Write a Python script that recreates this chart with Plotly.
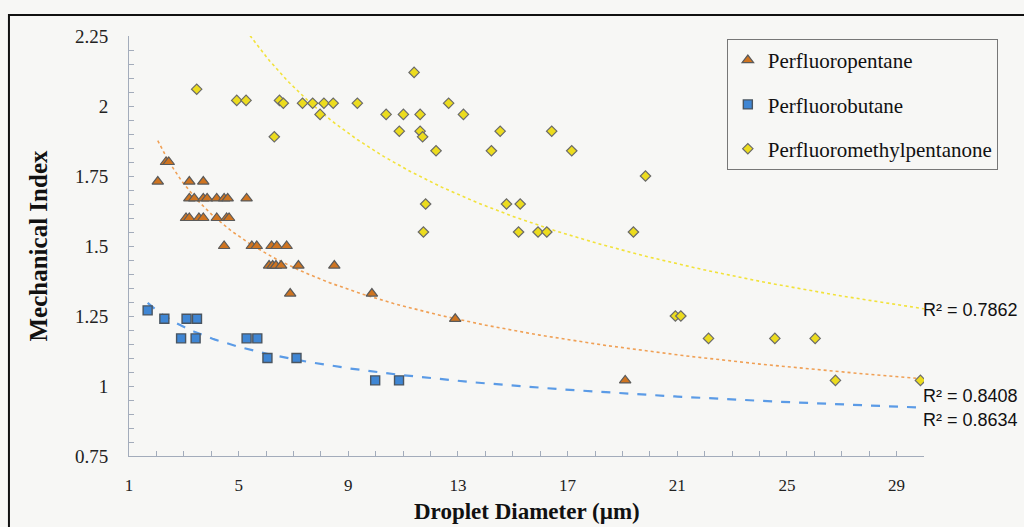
import numpy as np
import plotly.graph_objects as go

# Perfluoropentane droplets: diameter (µm) vs mechanical index
pfp_x = [2.05, 2.35, 2.45, 3.20, 3.71,
         3.20, 3.38, 3.71, 3.85, 4.20, 4.47, 4.60, 5.29,
         3.08, 3.20, 3.55, 3.71, 4.20, 4.56, 4.65,
         4.47, 5.48, 5.66, 6.20, 6.39, 6.75,
         6.11, 6.24, 6.36, 6.55, 7.18, 8.49,
         6.88, 9.86, 12.90, 19.10]
pfp_y = [1.73, 1.80, 1.80, 1.73, 1.73,
         1.67, 1.67, 1.67, 1.67, 1.67, 1.67, 1.67, 1.67,
         1.60, 1.60, 1.60, 1.60, 1.60, 1.60, 1.60,
         1.50, 1.50, 1.50, 1.50, 1.50, 1.50,
         1.43, 1.43, 1.43, 1.43, 1.43, 1.43,
         1.33, 1.33, 1.24, 1.02]

# Perfluorobutane droplets
pfb_x = [1.68, 2.29, 3.10, 3.48, 2.90, 3.43, 5.29, 5.68, 6.05, 7.11, 9.98, 10.85]
pfb_y = [1.27, 1.24, 1.24, 1.24, 1.17, 1.17, 1.17, 1.17, 1.10, 1.10, 1.02, 1.02]

# Perfluoromethylpentanone droplets
pfmp_x = [3.47, 4.93, 5.27, 6.49, 6.63, 7.33, 7.70, 8.11, 8.45, 7.97, 6.30,
          9.33, 11.40, 10.38, 11.01, 11.62, 12.66, 13.20, 10.86, 11.62, 11.71,
          12.20, 14.22, 14.54, 16.42, 17.15, 19.84, 11.82, 14.77, 15.27,
          11.74, 15.21, 15.92, 16.24, 19.40, 20.93, 21.13, 22.14, 24.56,
          26.03, 26.77, 29.87]
pfmp_y = [2.06, 2.02, 2.02, 2.02, 2.01, 2.01, 2.01, 2.01, 2.01, 1.97, 1.89,
          2.01, 2.12, 1.97, 1.97, 1.97, 2.01, 1.97, 1.91, 1.91, 1.89,
          1.84, 1.84, 1.91, 1.91, 1.84, 1.75, 1.65, 1.65, 1.65,
          1.55, 1.55, 1.55, 1.55, 1.55, 1.25, 1.25, 1.17, 1.17,
          1.17, 1.02, 1.02]

r2_labels = ["R² = 0.7862", "R² = 0.8408", "R² = 0.8634"]

x_ticks = [1, 5, 9, 13, 17, 21, 25, 29]
y_ticks = [0.75, 1, 1.25, 1.5, 1.75, 2, 2.25]
X_MAX = 30


def power_trend(xs, ys, x_end=X_MAX):
    """Least-squares power fit y = a * x^b (linear in log-log space)."""
    b, ln_a = np.polyfit(np.log(xs), np.log(ys), 1)
    xt = np.linspace(min(xs), x_end, 300)
    return xt, np.exp(ln_a) * xt ** b


SERIF = "Liberation Serif"
fig = go.Figure()

# trendlines
for xs, ys, color, dash, width in [
    (pfmp_x, pfmp_y, "#f2e23a", "dot", 1.6),
    (pfp_x, pfp_y, "#f0a055", "dot", 1.6),
    (pfb_x, pfb_y, "#5b9be6", "dash", 2.2),
]:
    tx, ty = power_trend(xs, ys)
    fig.add_trace(go.Scatter(x=tx, y=ty, mode="lines", showlegend=False,
                             hoverinfo="skip",
                             line=dict(color=color, dash=dash, width=width)))

fig.add_trace(go.Scatter(
    x=pfp_x, y=pfp_y, mode="markers", name="Perfluoropentane",
    legendgroup="a",
    marker=dict(symbol="triangle-up", size=10, color="#cf7420",
                line=dict(color="#5a5a5a", width=1.2))))
fig.add_trace(go.Scatter(
    x=pfb_x, y=pfb_y, mode="markers", name="Perfluorobutane",
    legendgroup="b",
    marker=dict(symbol="square", size=9, color="#3f86d4",
                line=dict(color="#4a5560", width=1.4))))
fig.add_trace(go.Scatter(
    x=pfmp_x, y=pfmp_y, mode="markers", name="Perfluoromethylpentanone",
    legendgroup="c",
    marker=dict(symbol="diamond", size=8, color="#ecdc1e",
                line=dict(color="#6a6a6a", width=1.2))))

# R² annotations at the right end of each trendline
for text, yv in zip(r2_labels, [1.271, 0.964, 0.879]):
    fig.add_annotation(x=29.9, y=yv, xref="x", yref="y", text=text,
                       showarrow=False, xanchor="left", yanchor="middle",
                       font=dict(family="Liberation Sans", size=18, color="#111"))

# x-axis title, placed below the tick labels
fig.add_annotation(x=0.5, y=-0.1667, xref="paper", yref="paper",
                   text="<b>Droplet Diameter (µm)</b>", showarrow=False,
                   xanchor="center", yanchor="bottom",
                   font=dict(family=SERIF, size=23, color="#111"))

axis_color = "#a3acbb"
fig.update_xaxes(
    range=[1, X_MAX], tickvals=x_ticks, ticktext=[str(v) for v in x_ticks],
    automargin=False,
    showgrid=False, zeroline=False, showline=True, linecolor=axis_color,
    linewidth=1, ticks="inside", ticklen=5, tickcolor=axis_color,
    minor=dict(ticks="inside", dtick=1, ticklen=5, tickcolor=axis_color,
               showgrid=False),
    tickfont=dict(family=SERIF, size=17, color="#222"),
    ticklabelstandoff=14)
fig.update_yaxes(
    range=[0.75, 2.25], tickvals=y_ticks,
    ticktext=["0.75", "1", "1.25", "1.5", "1.75", "2", "2.25"],
    automargin=False,
    showgrid=False, zeroline=False, showline=True, linecolor=axis_color,
    linewidth=1, ticks="inside", ticklen=5, tickcolor=axis_color,
    minor=dict(ticks="inside", dtick=0.05, ticklen=5, tickcolor=axis_color,
               showgrid=False),
    tickfont=dict(family=SERIF, size=19, color="#222"),
    ticklabelstandoff=16,
    title=dict(text="<b>Mechanical Index</b>", standoff=20,
               font=dict(family=SERIF, size=25, color="#111")))

# outer frame around the figure
fig.add_shape(type="rect", xref="paper", yref="paper",
              x0=-0.151, x1=1.2, y0=-0.3, y1=1.05,
              line=dict(color="#111", width=2), layer="above")

fig.update_layout(
    width=1024, height=527,
    margin=dict(l=129, r=100, t=36, b=71),
    paper_bgcolor="#f7f7f5", plot_bgcolor="#f7f7f5",
    legend=dict(x=0.752, y=0.993, xanchor="left", yanchor="top",
                bgcolor="#f7f7f5", bordercolor="#777", borderwidth=1,
                font=dict(family=SERIF, size=21, color="#111"),
                tracegroupgap=14, itemwidth=30),
    showlegend=True,
)

fig.write_html("out.html")
